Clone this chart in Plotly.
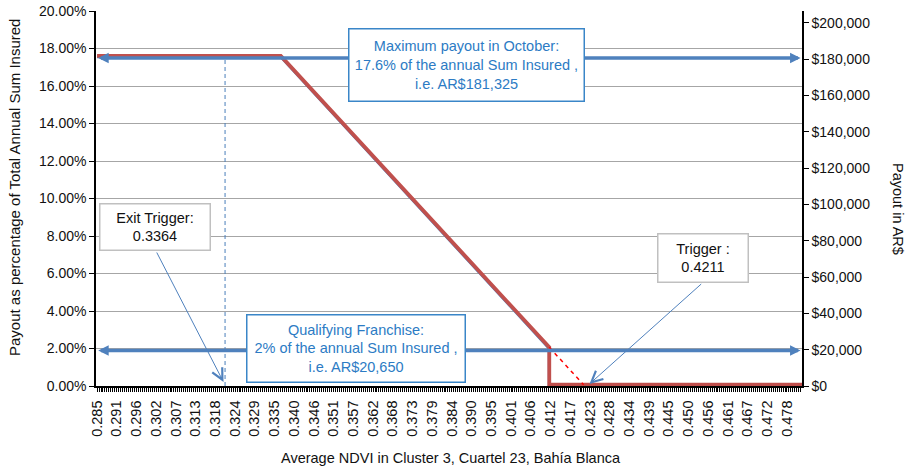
import plotly.graph_objects as go

# ---------------- data ----------------
tick_labels = ["0.285", "0.291", "0.296", "0.302", "0.307", "0.313", "0.318", "0.324",
               "0.329", "0.335", "0.340", "0.346", "0.351", "0.357", "0.362", "0.368",
               "0.373", "0.379", "0.384", "0.390", "0.395", "0.401", "0.406", "0.412",
               "0.417", "0.423", "0.428", "0.434", "0.439", "0.445", "0.450", "0.456",
               "0.461", "0.467", "0.472", "0.478"]
ndvi_first = 0.285
ndvi_last_label = 0.478
ndvi_axis_max = 0.4822

exit_trigger = 0.3364
trigger = 0.4211
franchise_ndvi = 0.4115          # where payout falls to the 2% franchise
max_payout_pct = 0.176
franchise_pct = 0.02
max_payout_ars = 181325
franchise_ars = 20650
marker_line_ndvi = 0.3208        # dashed vertical marker line

# payout curve (percentage of sum insured)
curve_ndvi = [ndvi_first, exit_trigger, franchise_ndvi, franchise_ndvi, ndvi_axis_max]
curve_pct = [max_payout_pct, max_payout_pct, franchise_pct, 0.0, 0.0]
# payout curve in AR$
curve_ars = [max_payout_ars, max_payout_ars, franchise_ars, 0, 0]
# linear continuation below the franchise
dash_ndvi = [franchise_ndvi, trigger]
dash_pct = [franchise_pct, 0.0]

y_left_ticks = [0.0, 0.02, 0.04, 0.06, 0.08, 0.10, 0.12, 0.14, 0.16, 0.18, 0.20]
y_right_ticks = [0, 20000, 40000, 60000, 80000, 100000, 120000, 140000, 160000, 180000, 200000]
y_right_labels = ["$0", "$20,000", "$40,000", "$60,000", "$80,000", "$100,000",
                  "$120,000", "$140,000", "$160,000", "$180,000", "$200,000"]
y_right_max = 206500

# ---------------- layout helpers ----------------
W, H = 912, 468
ML, MR, MT, MB = 96, 110, 11, 82
PW, PH = W - ML - MR, H - MT - MB
def px(x):
    return (x - ML) / PW
def py(y):
    return (H - MB - y) / PH

step = (ndvi_last_label - ndvi_first) / (len(tick_labels) - 1)
tickvals = [ndvi_first + i * step for i in range(len(tick_labels))]

FONT = "Liberation Sans, Arial, Helvetica, sans-serif"
BLUE = "#4F81BD"
RED = "#C0504D"

fig = go.Figure()
fig.add_trace(go.Scatter(x=[marker_line_ndvi, marker_line_ndvi], y=[0, max_payout_pct], mode="lines",
                         line=dict(color="#4A7EBB", width=1, dash="4px,3px"),
                         showlegend=False, hoverinfo="skip"))
fig.add_trace(go.Scatter(x=curve_ndvi, y=curve_ars, yaxis="y2", mode="lines",
                         line=dict(color=BLUE, width=3), showlegend=False, hoverinfo="skip"))
fig.add_trace(go.Scatter(x=curve_ndvi, y=curve_pct, yaxis="y3", mode="lines",
                         line=dict(color=RED, width=3.8), showlegend=False, hoverinfo="skip"))
fig.add_trace(go.Scatter(x=dash_ndvi, y=dash_pct, yaxis="y3", mode="lines",
                         line=dict(color="#FF0000", width=1.5, dash="4px,4px"),
                         showlegend=False, hoverinfo="skip"))

annotations = []
# thick double-headed arrows at max payout and franchise
x_left_tip = 0.2849
x_right_tip = 0.4818
for lvl in (max_payout_pct, franchise_pct):
    annotations.append(dict(x=x_right_tip, y=lvl, xref="x", yref="y",
                            ax=x_left_tip, ay=lvl, axref="x", ayref="y",
                            text="", showarrow=True, arrowside="end+start",
                            arrowhead=2, startarrowhead=2, arrowsize=0.6, startarrowsize=0.6,
                            arrowwidth=3.5, arrowcolor=BLUE, standoff=0, startstandoff=0,
                            yshift=-2))

# thin arrows from labels
annotations.append(dict(x=px(223.5), y=py(382), xref="paper", yref="paper",
                        ax=156 - 223.5, ay=251 - 382, text="", showarrow=True,
                        arrowhead=5, arrowsize=2.2, arrowwidth=1, arrowcolor=BLUE))
annotations.append(dict(x=px(589.5), y=py(384), xref="paper", yref="paper",
                        ax=702.7 - 589.5, ay=282.7 - 384, text="", showarrow=True,
                        arrowhead=5, arrowsize=2.2, arrowwidth=1, arrowcolor=BLUE))

def box(text, cx, cy, w, h, color, border, size=14.5):
    return dict(x=px(cx), y=py(cy), xref="paper", yref="paper", xanchor="center", yanchor="middle",
                text=text, showarrow=False, align="center", width=w, height=h,
                bgcolor="white", bordercolor=border, borderwidth=1.5, borderpad=0,
                font=dict(family=FONT, size=size, color=color))

annotations.append(box("Maximum payout in October:<br>17.6% of the annual Sum Insured ,<br>i.e. AR$181,325",
                       466.3, 65, 234, 71, "#2C7BC4", "#3A86C8"))
annotations.append(box("Qualifying Franchise:<br>2% of the annual Sum Insured ,<br>i.e. AR$20,650",
                       355.7, 348.7, 217, 66, "#2C7BC4", "#3A86C8"))
annotations.append(box("Exit Trigger:<br>0.3364", 155.2, 226.8, 109, 45, "#111111", "#C0C0C0", 14.5))
annotations.append(box("Trigger :<br>0.4211", 703.2, 257.5, 89, 47, "#111111", "#C0C0C0", 14.5))

# axis titles
annotations.append(dict(x=px(14), y=py(188), xref="paper", yref="paper", xanchor="center", yanchor="middle",
                        text="Payout as percentage of Total Annual Sum Insured",
                        textangle=-90, showarrow=False, font=dict(family=FONT, size=15, color="#111111")))
annotations.append(dict(x=px(898), y=py(209), xref="paper", yref="paper", xanchor="center", yanchor="middle",
                        text="Payout in AR$",
                        textangle=90, showarrow=False, font=dict(family=FONT, size=14.5, color="#111111")))
annotations.append(dict(x=px(451), y=py(458), xref="paper", yref="paper", xanchor="center", yanchor="middle",
                        text="Average NDVI in Cluster 3, Cuartel 23, Bahía Blanca",
                        showarrow=False, font=dict(family=FONT, size=14.5, color="#111111")))

fig.update_layout(
    width=W, height=H, margin=dict(l=ML, r=MR, t=MT, b=MB, autoexpand=False),
    paper_bgcolor="white", plot_bgcolor="white",
    font=dict(family=FONT, size=14, color="#111111"),
    annotations=annotations,
    xaxis=dict(type="linear", range=[0.2847, ndvi_axis_max], tickvals=tickvals, ticktext=tick_labels,
               tickangle=-90, ticks="outside", ticklen=4, tickwidth=1, tickcolor="black",
               minor=dict(ticks="outside", ticklen=4, tickwidth=1, tickcolor="black",
                          tick0=ndvi_first, dtick=step / 10, showgrid=False),
               showline=True, linecolor="black", linewidth=1.5, showgrid=False, zeroline=False,
               layer="below traces", tickfont=dict(size=14.5), ticklabelstandoff=3, automargin=False),
    yaxis=dict(range=[0, 0.2], tickvals=y_left_ticks, tickformat=".2%", ticks="outside", ticklen=5,
               tickcolor="black", showline=True, linecolor="black", linewidth=1.5,
               showgrid=True, gridcolor="#A6A6A6", gridwidth=1.2, zeroline=False,
               layer="below traces", tickfont=dict(size=14), automargin=False),
    yaxis2=dict(range=[0, y_right_max], overlaying="y", side="right", tickvals=y_right_ticks,
                ticktext=y_right_labels, ticks="outside", ticklen=5, tickcolor="black",
                showline=True, linecolor="black", linewidth=1.5, showgrid=False, zeroline=False,
                tickfont=dict(size=14), automargin=False),
    yaxis3=dict(range=[-0.0007, 0.2], overlaying="y", visible=False, automargin=False),
)

fig.write_html("out.html")
